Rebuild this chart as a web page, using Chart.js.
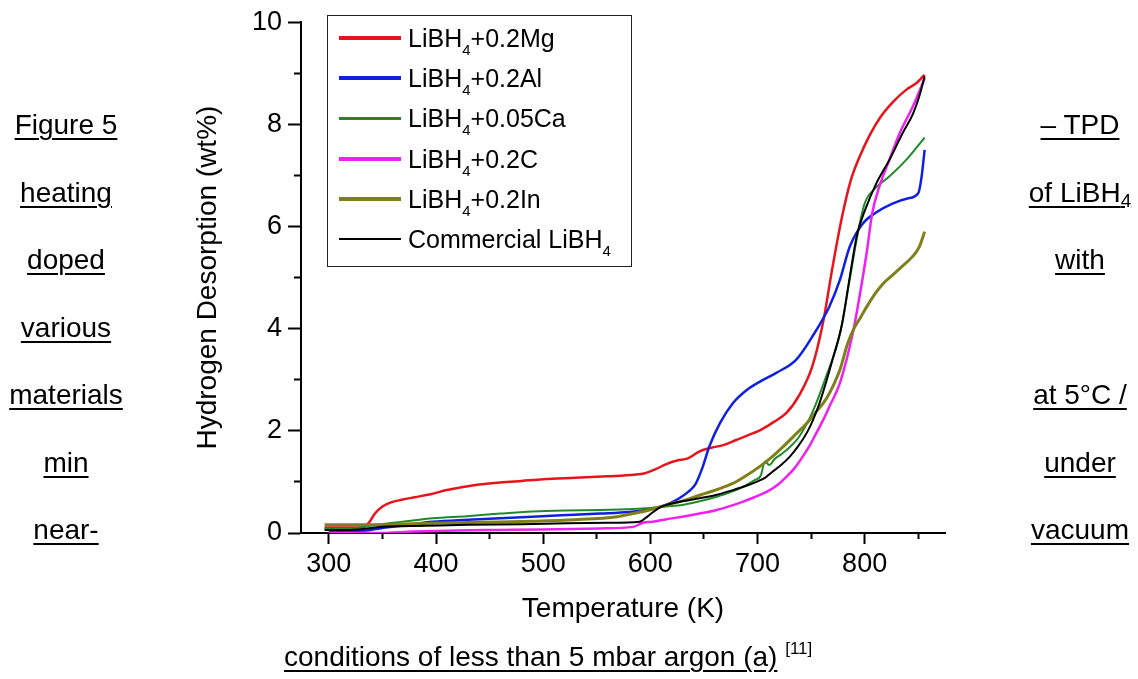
<!DOCTYPE html>
<html>
<head>
<meta charset="utf-8">
<script src="https://cdn.jsdelivr.net/npm/chart.js@4.4.1/dist/chart.umd.min.js"></script>
<style>
  html, body { margin: 0; padding: 0; background: #fff; }
  body { width: 1138px; height: 679px; position: relative; overflow: hidden;
         font-family: "Liberation Sans", Arial, sans-serif; color: #000; }
  #chart { position: absolute; left: 0; top: 0; }
  .col { position: absolute; top: 91px; font-size: 28px; line-height: 67.5px; text-align: center; }
  .col span, #bottom .u { text-decoration: underline; text-decoration-thickness: 2px; text-underline-offset: 4px; }
  #leftcol { left: 0; width: 132px; }
  #rightcol { left: 1022px; width: 116px; }
  #bottom { position: absolute; left: 284px; top: 640px; font-size: 28px; line-height: 34px; white-space: nowrap; }
  #bottom sup { font-size: 17px; vertical-align: 12px; line-height: 0; }
  .col sub { font-size: 19px; vertical-align: -5px; line-height: 0; }
  #legend { position: absolute; left: 327px; top: 15px; width: 303px; height: 250px;
            border: 1.5px solid #222; font-size: 25px; }
  .item { position: absolute; left: 0; width: 300px; height: 40px; line-height: 40px; }
  .item .ln { position: absolute; left: 11px; width: 62px; }
  .item .tx { position: absolute; left: 80px; top: 0; white-space: nowrap; }
  .item sub { font-size: 15px; vertical-align: -8px; line-height: 0; }
</style>
</head>
<body>
<canvas id="chart" width="1138" height="679"></canvas>

<div id="leftcol" class="col">
  <div><span>Figure 5</span></div>
  <div><span>heating</span></div>
  <div><span>doped</span></div>
  <div><span>various</span></div>
  <div><span>materials</span></div>
  <div><span>min</span></div>
  <div><span>near-</span></div>
</div>
<div id="rightcol" class="col">
  <div><span>– TPD</span></div>
  <div><span>of LiBH<sub>4</sub></span></div>
  <div><span>with</span></div>
  <div>&nbsp;</div>
  <div><span>at 5°C /</span></div>
  <div><span>under</span></div>
  <div><span>vacuum</span></div>
</div>
<div id="bottom"><span class="u">conditions of less than 5 mbar argon (a)</span> <sup>[11]</sup></div>

<div id="legend"></div>

<script>
const xTicks = [300, 350, 400, 450, 500, 550, 600, 650, 700, 750, 800, 850];
const yTicks = [0, 1, 2, 3, 4, 5, 6, 7, 8, 9, 10];

const seriesNames = ['LiBH4+0.2Mg', 'LiBH4+0.2Al', 'LiBH4+0.05Ca', 'LiBH4+0.2C', 'LiBH4+0.2In', 'Commercial LiBH4'];

const mgT = [296, 320, 333, 338, 343, 350, 358, 368, 380, 395, 410, 425, 440, 460, 480, 500, 530, 560, 585, 595, 605, 615, 625, 635, 646, 657, 668, 680, 692, 704, 715, 727, 739, 751, 761, 770, 779, 787, 795, 805, 815, 827, 839, 849, 856];
const mgH = [0.11, 0.11, 0.12, 0.22, 0.38, 0.52, 0.6, 0.65, 0.7, 0.76, 0.84, 0.9, 0.95, 0.99, 1.02, 1.05, 1.08, 1.11, 1.14, 1.17, 1.25, 1.35, 1.42, 1.46, 1.6, 1.67, 1.72, 1.82, 1.92, 2.03, 2.17, 2.35, 2.7, 3.25, 4.1, 5.2, 6.2, 6.9, 7.35, 7.8, 8.15, 8.45, 8.68, 8.82, 8.97];

const alT = [300, 320, 335, 350, 370, 397, 430, 460, 490, 522, 553, 580, 595, 609, 620, 627, 635, 642, 649, 655, 665, 677, 690, 702, 718, 736, 751, 767, 777, 786, 798, 811, 826, 840, 850, 853, 856];
const alH = [0.03, 0.03, 0.05, 0.1, 0.15, 0.22, 0.26, 0.29, 0.32, 0.35, 0.38, 0.41, 0.45, 0.51, 0.6, 0.68, 0.8, 0.95, 1.3, 1.69, 2.15, 2.54, 2.8, 2.96, 3.14, 3.39, 3.84, 4.43, 4.96, 5.6, 6.05, 6.28, 6.45, 6.55, 6.65, 6.95, 7.5];

const caT = [296, 320, 335, 360, 397, 429, 460, 490, 520, 553, 584, 600, 615, 630, 646, 662, 675, 686, 697, 703, 707, 711, 716, 722, 729, 739, 751, 764, 777, 786, 793, 800, 810, 823, 839, 856];
const caH = [0.09, 0.09, 0.13, 0.2, 0.29, 0.33, 0.38, 0.42, 0.44, 0.45, 0.47, 0.49, 0.52, 0.55, 0.62, 0.71, 0.8, 0.9, 1.03, 1.12, 1.4, 1.33, 1.45, 1.54, 1.66, 1.89, 2.35, 3.06, 3.9, 4.95, 5.8, 6.45, 6.75, 6.98, 7.31, 7.74];

const cT = [300, 345, 380, 420, 460, 500, 553, 584, 593, 602, 615, 630, 646, 662, 675, 686, 697, 708, 718, 727, 735, 742, 749, 755, 761, 767, 777, 789, 795, 802, 807, 814, 823, 833, 845, 856];
const cH = [0.0, 0.0, 0.03, 0.05, 0.06, 0.07, 0.09, 0.12, 0.2, 0.22, 0.27, 0.32, 0.38, 0.45, 0.53, 0.61, 0.7, 0.8, 0.93, 1.1, 1.28, 1.49, 1.72, 1.96, 2.2, 2.47, 2.94, 3.92, 4.6, 5.5, 6.25, 6.8, 7.3, 7.84, 8.35, 8.9];

const inT = [296, 320, 335, 360, 397, 440, 490, 530, 569, 584, 599, 615, 630, 646, 662, 677, 690, 702, 713, 724, 735, 746, 755, 764, 771, 777, 784, 790, 797, 804, 811, 818, 826, 835, 845, 851, 856];
const inH = [0.16, 0.16, 0.16, 0.17, 0.19, 0.21, 0.23, 0.26, 0.32, 0.38, 0.45, 0.55, 0.63, 0.74, 0.85, 0.97, 1.13, 1.3, 1.48, 1.69, 1.92, 2.15, 2.38, 2.62, 2.9, 3.2, 3.7, 4.0, 4.25, 4.5, 4.72, 4.9, 5.05, 5.22, 5.42, 5.6, 5.9];

const comT = [296, 320, 350, 390, 429, 480, 522, 560, 590, 596, 602, 609, 615, 630, 646, 662, 677, 689, 699, 707, 714, 722, 730, 738, 746, 752, 758, 764, 770, 779, 786, 793, 800, 811, 823, 836, 845, 851, 856];
const comH = [0.06, 0.06, 0.12, 0.14, 0.16, 0.17, 0.19, 0.2, 0.22, 0.3, 0.4, 0.5, 0.55, 0.62, 0.68, 0.75, 0.84, 0.92, 1.0, 1.08, 1.2, 1.33, 1.49, 1.7, 1.96, 2.22, 2.55, 2.95, 3.39, 4.1, 5.0, 5.85, 6.3, 6.85, 7.3, 7.85, 8.2, 8.55, 8.94];

const seriesT = [mgT, alT, caT, cT, inT, comT];
const seriesH = [mgH, alH, caH, cH, inH, comH];
const colors = ['#e8141c', '#1020e0', '#1f8a2a', '#f020f0', '#80801a', '#000000'];
const widths = [2.5, 2.5, 2, 2.5, 3, 2];
const legendWidths = [4, 4, 2.5, 4, 4, 2.5];

const FONT = '"Liberation Sans", Arial, sans-serif';

function toPoints(ts, hs) {
    return ts.map((t, i) => ({ x: t, y: hs[i] }));
}

const datasets = seriesNames.map((name, i) => ({
    label: name,
    data: toPoints(seriesT[i], seriesH[i]),
    borderColor: colors[i],
    borderWidth: widths[i],
    pointRadius: 0,
    fill: false,
    cubicInterpolationMode: 'monotone',
    order: seriesNames.length - i
}));

new Chart(document.getElementById('chart'), {
    type: 'line',
    data: { datasets: datasets },
    options: {
        responsive: false,
        animation: false,
        devicePixelRatio: 1,
        layout: { padding: { left: 180, right: 193, top: 22, bottom: 46 } },
        plugins: { legend: { display: false }, tooltip: { enabled: false } },
        scales: {
            x: {
                type: 'linear',
                min: 274,
                max: 875,
                afterBuildTicks: s => { s.ticks = xTicks.map(v => ({ value: v })); },
                afterFit: s => { s.height = 100; },
                border: { color: '#000', width: 2 },
                grid: {
                    drawOnChartArea: false,
                    tickLength: 11,
                    tickWidth: 2,
                    tickColor: '#000',
                    // short minor ticks
                    tickBorderDash: ctx => (ctx.tick && ctx.tick.value % 100 !== 0) ? [5, 100] : []
                },
                ticks: {
                    autoSkip: false,
                    maxRotation: 0,
                    padding: 4,
                    color: '#000',
                    font: { family: FONT, size: 27 },
                    callback: v => (v % 100 === 0 ? v : '')
                },
                title: {
                    display: true,
                    text: 'Temperature (K)',
                    color: '#000',
                    font: { family: FONT, size: 28 },
                    padding: { top: 0, bottom: 7 }
                }
            },
            y: {
                min: 0,
                max: 10,
                afterBuildTicks: s => { s.ticks = yTicks.map(v => ({ value: v })); },
                afterFit: s => { s.width = 121; },
                border: { color: '#000', width: 2 },
                grid: {
                    drawOnChartArea: false,
                    tickLength: 13,
                    tickWidth: 2,
                    tickColor: '#000',
                    tickBorderDash: ctx => (ctx.tick && ctx.tick.value % 2 !== 0) ? [0, 6, 7, 100] : []
                },
                ticks: {
                    autoSkip: false,
                    padding: 6,
                    color: '#000',
                    font: { family: FONT, size: 27 },
                    callback: v => (v % 2 === 0 ? v : '')
                },
                title: {
                    display: true,
                    text: 'Hydrogen Desorption (wt%)',
                    color: '#000',
                    font: { family: FONT, size: 28 },
                    padding: { top: 11, bottom: 0 }
                }
            }
        }
    }
});

// legend box with subscripts
const legend = document.getElementById('legend');
seriesNames.forEach((name, i) => {
    const item = document.createElement('div');
    item.className = 'item';
    item.style.top = (2 + i * 40.2) + 'px';
    const ln = document.createElement('div');
    ln.className = 'ln';
    ln.style.height = legendWidths[i] + 'px';
    ln.style.top = (20 - legendWidths[i] / 2) + 'px';
    ln.style.background = colors[i];
    const tx = document.createElement('div');
    tx.className = 'tx';
    tx.innerHTML = name.replace('LiBH4', 'LiBH<sub>4</sub>');
    item.appendChild(ln);
    item.appendChild(tx);
    legend.appendChild(item);
});
</script>
</body>
</html>
